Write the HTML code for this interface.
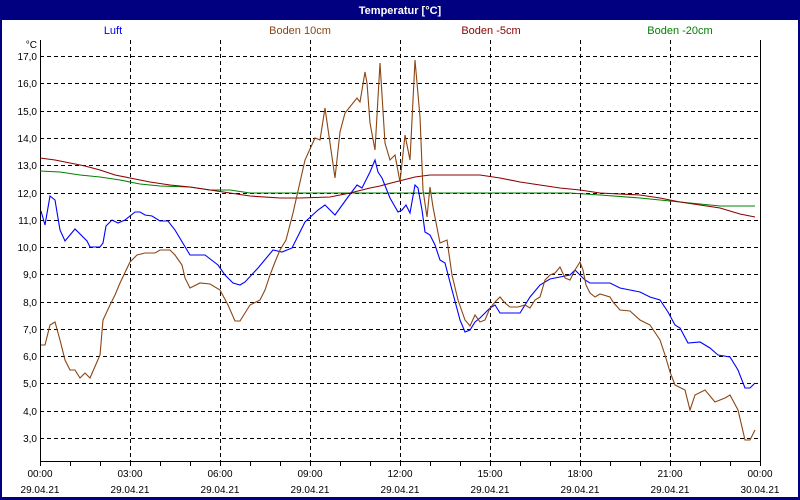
<!DOCTYPE html>
<html><head><style>
body{margin:0;background:#fff;}
svg{display:block;font-family:"Liberation Sans","DejaVu Sans",sans-serif;}
</style></head><body>
<svg width="800" height="500" xmlns="http://www.w3.org/2000/svg">
<rect x="0" y="0" width="800" height="500" fill="#000080"/>
<rect x="2" y="20" width="796" height="477" fill="#fff"/>
<text x="400" y="14" fill="#fff" font-size="11" font-weight="bold" text-anchor="middle">Temperatur [°C]</text>
<g font-size="11" text-anchor="middle">
<text x="113" y="34" fill="#0000ff">Luft</text>
<text x="300" y="34" fill="#8b4513">Boden 10cm</text>
<text x="491" y="34" fill="#8b0000">Boden -5cm</text>
<text x="680" y="34" fill="#008000">Boden -20cm</text>
</g>
<g stroke="#000" stroke-dasharray="4,3" stroke-width="1">
<path d="M40 56.5H760M40 83.5H760M40 111.5H760M40 138.5H760M40 165.5H760M40 193.5H760M40 220.5H760M40 247.5H760M40 274.5H760M40 302.5H760M40 329.5H760M40 356.5H760M40 383.5H760M40 411.5H760M40 438.5H760"/>
<path d="M130.5 40V461M220.5 40V461M310.5 40V461M400.5 40V461M490.5 40V461M580.5 40V461M670.5 40V461"/>
</g>
<path d="M40.5 40V461.5H760.5V40" fill="none" stroke="#000"/>
<path d="M40.5 461v5M70.5 461v5M100.5 461v5M130.5 461v5M160.5 461v5M190.5 461v5M220.5 461v5M250.5 461v5M280.5 461v5M310.5 461v5M340.5 461v5M370.5 461v5M400.5 461v5M430.5 461v5M460.5 461v5M490.5 461v5M520.5 461v5M550.5 461v5M580.5 461v5M610.5 461v5M640.5 461v5M670.5 461v5M700.5 461v5M730.5 461v5M760.5 461v5" stroke="#000"/>
<g font-size="10" text-anchor="end" fill="#000">
<text x="37" y="48">°C</text>
<text x="37" y="60">17,0</text><text x="37" y="87">16,0</text><text x="37" y="115">15,0</text><text x="37" y="142">14,0</text><text x="37" y="169">13,0</text><text x="37" y="197">12,0</text><text x="37" y="224">11,0</text><text x="37" y="251">10,0</text><text x="37" y="278">9,0</text><text x="37" y="306">8,0</text><text x="37" y="333">7,0</text><text x="37" y="360">6,0</text><text x="37" y="387">5,0</text><text x="37" y="415">4,0</text><text x="37" y="442">3,0</text>
</g>
<g font-size="10" text-anchor="middle" fill="#000">
<text x="40" y="477">00:00</text><text x="130" y="477">03:00</text><text x="220" y="477">06:00</text><text x="310" y="477">09:00</text><text x="400" y="477">12:00</text><text x="490" y="477">15:00</text><text x="580" y="477">18:00</text><text x="670" y="477">21:00</text><text x="760" y="477">00:00</text>
<text x="40" y="493">29.04.21</text><text x="130" y="493">29.04.21</text><text x="220" y="493">29.04.21</text><text x="310" y="493">29.04.21</text><text x="400" y="493">29.04.21</text><text x="490" y="493">29.04.21</text><text x="580" y="493">29.04.21</text><text x="670" y="493">29.04.21</text><text x="760" y="493">30.04.21</text>
</g>
<g fill="none" stroke-width="1.1">
<polyline stroke="#008000" points="40,171 60,172 80,175 100,177 120,180 140,184 160,186 190,187 210,190 230,190 250,193 300,193 570,193 600,195 640,198 660,200 680,202 700,204 720,206 755,206"/>
<polyline stroke="#8b0000" points="40,158 55,160 70,163 85,166 100,170 115,175 130,178 150,182 170,185 190,187 210,190 230,193 250,196 280,198 300,198 330,197 350,193 370,188 380,186 395,182 415,177 430,175 480,175 500,178 520,182 540,185 560,188 580,190 600,193 640,195 660,198 680,202 700,205 720,208 740,214 755,217"/>
<polyline stroke="#0000ff" points="41,211 45,225 50,196 55,200 60,230 65,241 75,229 87,241 90,247 100,247 103,243 106,226 112,220 118,223 125,220 135,212 140,212 145,215 152,216 160,221 168,221 175,230 190,255 205,255 218,265 225,275 233,283 240,285 245,282 258,268 273,250 282,252 292,248 305,222 318,210 325,205 335,215 348,197 357,185 362,188 370,172 375,160 378,172 382,178 390,198 398,212 402,210 406,205 410,213 415,185 418,188 422,210 425,232 430,235 435,245 440,260 445,263 452,290 460,320 465,332 470,330 475,322 480,318 490,308 495,305 500,313 505,313 520,313 525,305 530,297 540,285 550,279 560,277 570,275 575,270 580,275 585,280 590,283 610,283 620,288 630,290 640,292 650,297 660,300 668,312 675,325 680,328 688,343 700,342 710,348 718,355 730,357 738,370 745,388 750,388 755,383"/>
<polyline stroke="#8b4513" points="41,345 45,345 50,325 55,322 60,340 65,360 70,370 75,370 80,378 85,373 90,378 100,355 103,320 110,305 115,295 120,283 130,262 137,255 145,253 155,253 160,250 170,250 175,255 182,265 185,278 190,288 200,283 210,284 220,290 228,305 235,321 240,321 250,305 260,300 265,290 270,275 275,262 280,250 286,240 293,213 305,160 315,138 320,140 325,108 335,178 340,132 345,113 357,98 360,102 365,72 367,83 370,123 375,150 380,63 385,143 390,160 395,155 400,182 405,135 410,160 415,60 420,117 423,190 427,217 430,187 433,207 440,243 447,240 452,275 458,300 465,320 470,326 475,315 480,322 485,320 490,308 495,302 500,297 505,303 510,307 518,307 525,305 530,308 535,300 540,297 545,280 550,275 555,273 560,267 565,278 570,280 575,270 580,262 583,270 586,285 590,293 595,297 600,294 610,297 613,302 620,310 630,311 640,320 650,325 660,340 665,355 670,372 675,385 685,390 690,410 695,395 705,390 715,402 725,398 730,395 738,410 745,440 750,440 755,430"/>
</g>
</svg>
</body></html>
